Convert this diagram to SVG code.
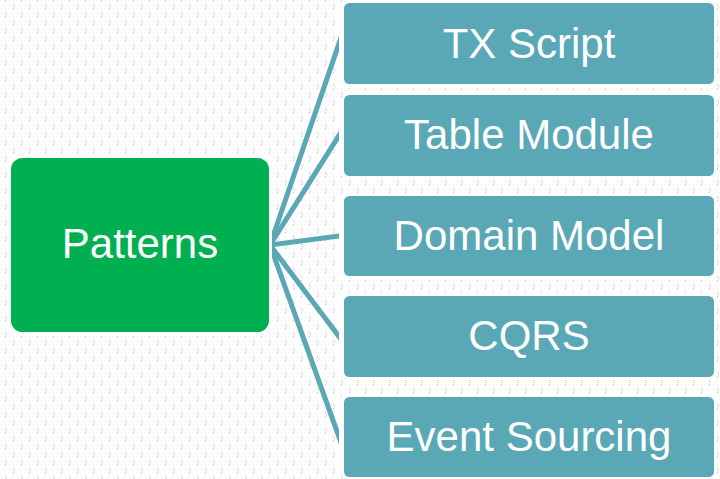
<svg xmlns="http://www.w3.org/2000/svg" width="720" height="479" viewBox="0 0 720 479">
  <style>
    .bg { fill: #ffffff; }
    .root { fill: #00B050; stroke: #ffffff; stroke-width: 3; }
    .leaf { fill: #5AA8B5; stroke: #ffffff; stroke-width: 3; }
    .label { font-family: "Liberation Sans", Arial, sans-serif; font-size: 42px; fill: #ffffff; text-anchor: middle; }
    .link { stroke: #5AA8B5; stroke-width: 5; fill: none; }
    .dot { fill: #c0c0c0; }
  </style>
  <defs>
    <!-- light grey dotted texture for the slide background -->
    <pattern id="dots" width="16" height="16" patternUnits="userSpaceOnUse">
      <rect class="dot" x="13" y="4" width="1" height="1"/>
      <rect class="dot" x="14" y="6" width="1" height="1"/>
      <rect class="dot" x="13" y="8" width="1" height="1"/>
      <rect class="dot" x="5" y="12" width="1" height="1"/>
      <rect class="dot" x="6" y="14" width="1" height="1"/>
      <rect class="dot" x="5" y="0" width="1" height="1"/>
    </pattern>
    <!-- connector band between the root and the leaf column -->
    <clipPath id="band">
      <rect x="270" y="0" width="69" height="479"/>
    </clipPath>
  </defs>

  <rect class="bg" x="0" y="0" width="720" height="479"/>
  <rect x="0" y="0" width="720" height="479" fill="url(#dots)"/>

  <g id="connectors" clip-path="url(#band)">
    <line class="link" x1="260" y1="274.2" x2="350" y2="11.4"/>
    <line class="link" x1="260" y1="260.87" x2="350" y2="118.04"/>
    <line class="link" x1="260" y1="246.3" x2="350" y2="234.57"/>
    <line class="link" x1="260" y1="231.74" x2="350" y2="351.09"/>
    <line class="link" x1="260" y1="217.17" x2="350" y2="467.6"/>
  </g>

  <g id="patterns">
    <rect class="root" x="9.5" y="156.5" width="261" height="177" rx="13"/>
    <text class="label" x="140" y="258">Patterns</text>
  </g>

  <g id="tx-script">
    <rect class="leaf" x="342.5" y="1.5" width="373" height="84" rx="7"/>
    <text class="label" x="529" y="57.5">TX Script</text>
  </g>

  <g id="table-module">
    <rect class="leaf" x="342.5" y="93.5" width="373" height="84" rx="7"/>
    <text class="label" x="529" y="149">Table Module</text>
  </g>

  <g id="domain-model">
    <rect class="leaf" x="342.5" y="194.5" width="373" height="83" rx="7"/>
    <text class="label" x="529" y="250">Domain Model</text>
  </g>

  <g id="cqrs">
    <rect class="leaf" x="342.5" y="294.5" width="373" height="84" rx="7"/>
    <text class="label" x="529" y="350">CQRS</text>
  </g>

  <g id="event-sourcing">
    <rect class="leaf" x="342.5" y="395.5" width="373" height="83" rx="7"/>
    <text class="label" x="529" y="450.5">Event Sourcing</text>
  </g>
</svg>
